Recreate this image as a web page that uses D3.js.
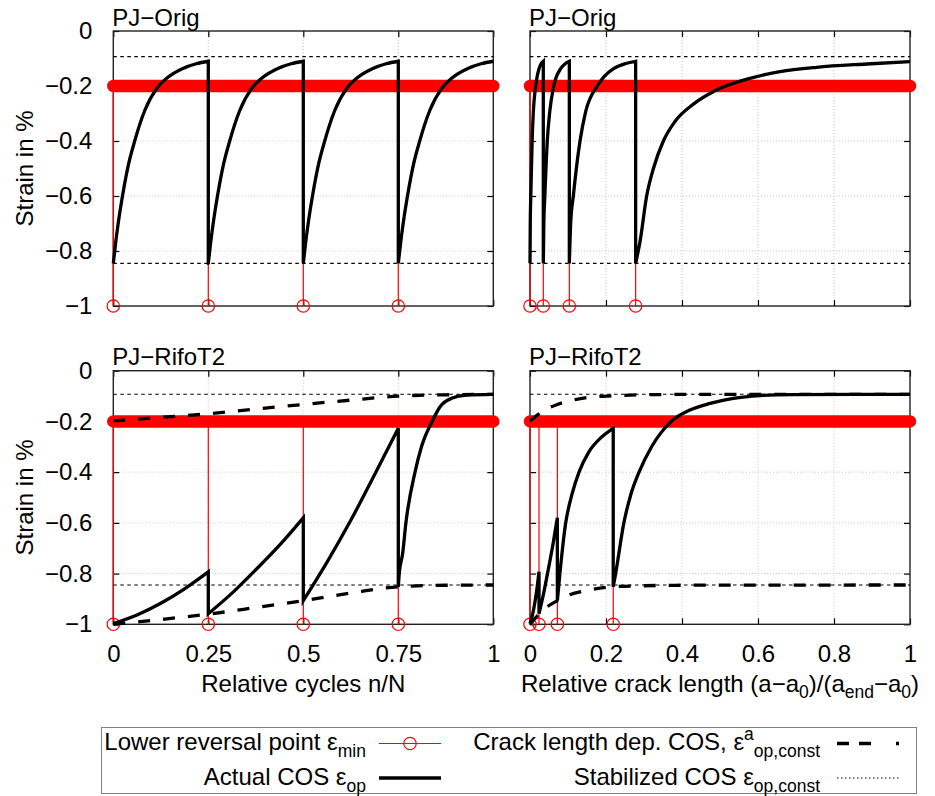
<!DOCTYPE html>
<html><head><meta charset="utf-8">
<script src="https://cdn.jsdelivr.net/npm/d3@7/dist/d3.min.js"></script>
<style>
body{margin:0;background:#fff}
svg{display:block}
text{font-family:"Liberation Sans",Arial,Helvetica,sans-serif;fill:#000}
</style>
</head><body>
<svg id="c" width="935" height="796"></svg>
<script>
// ---------------- data ----------------
const yTicks = [0, -0.2, -0.4, -0.6, -0.8, -1];
const yTickLabels = ["0", "−0.2", "−0.4", "−0.6", "−0.8", "−1"];
const cycleTicks = [0, 0.25, 0.5, 0.75, 1];
const cycleTickLabels = ["0", "0.25", "0.5", "0.75", "1"];
const crackTicks = [0, 0.2, 0.4, 0.6, 0.8, 1];
const crackTickLabels = ["0", "0.2", "0.4", "0.6", "0.8", "1"];
const panelTitles = ["PJ−Orig", "PJ−Orig", "PJ−RifoT2", "PJ−RifoT2"];

const epsMinBand = -0.2;      // lower reversal point (regular cycles)
const epsMinOverload = -1;    // lower reversal point (overload)
const stabilizedCOS = [-0.093, -0.845];

// reversal (overload) positions
const origCycleReversal = [0, 0.25, 0.5, 0.75];
const origCrackReversal = [0, 0.035, 0.1035, 0.278];
const rifoCycleReversal = [0, 0.25, 0.5, 0.75];
const rifoCrackReversal = [0, 0.0237, 0.072, 0.219];

// Actual COS, PJ-Orig vs relative cycles (one array per segment)
const origCycleCOS = [
  [[0,-0.845],[0.006,-0.772],[0.0123,-0.705],[0.0254,-0.59],[0.04,-0.485],[0.0561,-0.401],[0.0825,-0.29],[0.1158,-0.206],[0.1439,-0.168],[0.183,-0.136],[0.218,-0.119],[0.25,-0.11]],
  [[0.25,-0.845],[0.256,-0.772],[0.2623,-0.705],[0.2754,-0.59],[0.29,-0.485],[0.3061,-0.401],[0.3325,-0.29],[0.3658,-0.206],[0.3939,-0.168],[0.433,-0.136],[0.468,-0.119],[0.5,-0.11]],
  [[0.5,-0.845],[0.506,-0.772],[0.5123,-0.705],[0.5254,-0.59],[0.54,-0.485],[0.5561,-0.401],[0.5825,-0.29],[0.6158,-0.206],[0.6439,-0.168],[0.683,-0.136],[0.718,-0.119],[0.75,-0.11]],
  [[0.75,-0.845],[0.756,-0.772],[0.7623,-0.705],[0.7754,-0.59],[0.79,-0.485],[0.8061,-0.401],[0.8325,-0.29],[0.8658,-0.206],[0.8939,-0.168],[0.933,-0.136],[0.968,-0.119],[1,-0.11]]
];
// Actual COS, PJ-Orig vs relative crack length
const origCrackCOS = [
  [[0,-0.845],[0.0007,-0.7],[0.0021,-0.6],[0.0056,-0.4],[0.0088,-0.293],[0.0145,-0.205],[0.0185,-0.168],[0.0238,-0.137],[0.0298,-0.118],[0.035,-0.11]],
  [[0.035,-0.845],[0.0364,-0.7],[0.0391,-0.6],[0.0455,-0.4],[0.052,-0.293],[0.061,-0.21],[0.068,-0.172],[0.0807,-0.137],[0.0933,-0.118],[0.1035,-0.11]],
  [[0.1035,-0.845],[0.107,-0.7],[0.114,-0.6],[0.1316,-0.4],[0.1465,-0.293],[0.177,-0.2],[0.195,-0.166],[0.221,-0.136],[0.252,-0.118],[0.278,-0.11]],
  [[0.278,-0.845],[0.2895,-0.766],[0.307,-0.6],[0.325,-0.499],[0.351,-0.4],[0.381,-0.33],[0.43,-0.266],[0.482,-0.221],[0.51,-0.203],[0.579,-0.172],[0.658,-0.148],[0.754,-0.132],[0.886,-0.12],[1,-0.1115]]
];
// Actual COS, PJ-RifoT2 vs relative cycles
const rifoCycleCOS = [
  [[0,-0.997],[0.0625,-0.963],[0.125,-0.917],[0.1875,-0.86],[0.25,-0.793]],
  [[0.25,-0.958],[0.3125,-0.877],[0.375,-0.785],[0.4375,-0.688],[0.5,-0.58]],
  [[0.5,-0.907],[0.5625,-0.755],[0.625,-0.59],[0.6875,-0.41],[0.75,-0.227]],
  [[0.75,-0.852],[0.7525,-0.8],[0.7615,-0.72],[0.77,-0.6],[0.794,-0.4],[0.811,-0.3],[0.84,-0.197],[0.86,-0.142],[0.89,-0.109],[0.93,-0.096],[1,-0.093]]
];
// Actual COS, PJ-RifoT2 vs relative crack length
const rifoCrackCOS = [
  [[0,-0.997],[0.0065,-0.963],[0.0125,-0.917],[0.0182,-0.86],[0.0237,-0.793]],
  [[0.0237,-0.958],[0.036,-0.877],[0.048,-0.785],[0.06,-0.688],[0.072,-0.58]],
  [[0.072,-0.907],[0.0787,-0.8],[0.094,-0.6],[0.11,-0.49],[0.129,-0.4],[0.155,-0.32],[0.186,-0.265],[0.219,-0.227]],
  [[0.219,-0.852],[0.2254,-0.8],[0.247,-0.6],[0.265,-0.49],[0.287,-0.4],[0.32,-0.3],[0.372,-0.2],[0.421,-0.155],[0.474,-0.129],[0.535,-0.109],[0.605,-0.098],[0.69,-0.094],[1,-0.093]]
];
// Crack length dependent COS (PJ-RifoT2 only)
const rifoCycleDepUpper = [[0,-0.198],[0.125,-0.184],[0.25,-0.17],[0.375,-0.151],[0.5,-0.133],[0.625,-0.116],[0.75,-0.1],[0.875,-0.095],[1,-0.093]];
const rifoCycleDepLower = [[0,-1.0],[0.125,-0.981],[0.25,-0.96],[0.375,-0.934],[0.5,-0.907],[0.625,-0.877],[0.75,-0.852],[0.875,-0.846],[1,-0.845]];
const rifoCrackDepUpper = [[0,-0.198],[0.0237,-0.17],[0.05,-0.147],[0.072,-0.133],[0.116,-0.115],[0.15,-0.106],[0.219,-0.099],[0.3,-0.095],[0.4,-0.0935],[1,-0.093]];
const rifoCrackDepLower = [[0,-1.0],[0.0237,-0.96],[0.04,-0.937],[0.072,-0.907],[0.1,-0.886],[0.15,-0.866],[0.219,-0.852],[0.3,-0.848],[0.4,-0.846],[1,-0.845]];

// ---------------- drawing ----------------
const svg = d3.select("#c");
const FS = 24;
const SFS = 17.5;

const panels = [
  {title: panelTitles[0], l:113.3, r:493.3, t:31, b:306, ticks:cycleTicks, tickLabels:cycleTickLabels, cos:origCycleCOS, rev:origCycleReversal, dep:null, showX:false, showY:true},
  {title: panelTitles[1], l:530, r:910, t:31, b:306, ticks:crackTicks, tickLabels:crackTickLabels, cos:origCrackCOS, rev:origCrackReversal, dep:null, showX:false, showY:false},
  {title: panelTitles[2], l:113.3, r:493.3, t:370.7, b:624.3, ticks:cycleTicks, tickLabels:cycleTickLabels, cos:rifoCycleCOS, rev:rifoCycleReversal, dep:[rifoCycleDepUpper, rifoCycleDepLower], showX:true, showY:true},
  {title: panelTitles[3], l:530, r:910, t:370.7, b:624.3, ticks:crackTicks, tickLabels:crackTickLabels, cos:rifoCrackCOS, rev:rifoCrackReversal, dep:[rifoCrackDepUpper, rifoCrackDepLower], showX:true, showY:false}
];

panels.forEach(p => {
  const x = d3.scaleLinear().domain([0, 1]).range([p.l, p.r]);
  const y = d3.scaleLinear().domain([-1, 0]).range([p.b, p.t]);
  const g = svg.append("g");

  // grid
  const grid = g.append("g").attr("stroke", "#c8c8c8").attr("stroke-width", 1).attr("stroke-dasharray", "1,2");
  p.ticks.slice(1, -1).forEach(v => grid.append("line").attr("x1", x(v)).attr("x2", x(v)).attr("y1", p.t).attr("y2", p.b));
  yTicks.slice(1, -1).forEach(v => grid.append("line").attr("x1", p.l).attr("x2", p.r).attr("y1", y(v)).attr("y2", y(v)));

  // axes (ticks inward on all sides)
  const axB = d3.axisBottom(x).tickValues(p.ticks).tickSizeInner(-6).tickSizeOuter(0).tickPadding(21).tickFormat((d, i) => p.showX ? p.tickLabels[i] : "");
  const axT = d3.axisTop(x).tickValues(p.ticks).tickSizeInner(-6).tickSizeOuter(0).tickFormat("");
  const axL = d3.axisLeft(y).tickValues(yTicks).tickSizeInner(-6).tickSizeOuter(0).tickPadding(21).tickFormat((d, i) => p.showY ? yTickLabels[i] : "");
  const axR = d3.axisRight(y).tickValues(yTicks).tickSizeInner(-6).tickSizeOuter(0).tickFormat("");
  [[axB, `translate(0,${p.b})`], [axT, `translate(0,${p.t})`], [axL, `translate(${p.l},0)`], [axR, `translate(${p.r},0)`]].forEach(([ax, tr]) => {
    const a = g.append("g").attr("transform", tr).call(ax);
    a.select(".domain").remove();
    a.selectAll(".tick line").attr("stroke", "#000").attr("stroke-width", 1.2);
    a.selectAll("text").attr("font-size", FS).attr("font-family", "Liberation Sans, Arial, sans-serif").attr("fill", "#000");
  });

  // frame
  g.append("rect").attr("x", p.l).attr("y", p.t).attr("width", p.r - p.l).attr("height", p.b - p.t)
    .attr("fill", "none").attr("stroke", "#222").attr("stroke-width", 1.4);

  // title
  g.append("text").attr("x", p.l - 1).attr("y", p.t - 5.3).attr("font-size", FS).text(p.title);

  // lower reversal point: dense points at -0.2 (band), impulses to -1 at overloads
  g.append("line").attr("x1", x(0)).attr("x2", x(1)).attr("y1", y(epsMinBand)).attr("y2", y(epsMinBand))
    .attr("stroke", "#ff0000").attr("stroke-width", 12.5).attr("stroke-linecap", "round");
  p.rev.forEach(v => {
    g.append("line").attr("x1", x(v)).attr("x2", x(v)).attr("y1", y(epsMinBand)).attr("y2", y(epsMinOverload))
      .attr("stroke", "#ff0000").attr("stroke-width", 1.2);
    g.append("circle").attr("cx", x(v)).attr("cy", y(epsMinOverload)).attr("r", 6.2)
      .attr("fill", "none").attr("stroke", "#ff0000").attr("stroke-width", 1.2);
  });

  // crack length dependent COS
  const depLine = d3.line().x(d => x(d[0])).y(d => y(d[1])).curve(d3.curveMonotoneX);
  if (p.dep) {
    p.dep.forEach(arr => {
      g.append("path").attr("d", depLine(arr)).attr("fill", "none")
        .attr("stroke", "#000").attr("stroke-width", 3.3).attr("stroke-dasharray", "12,13");
    });
  }
  // actual COS (connected segments)
  const segLine = d3.line().x(d => x(d[0])).y(d => y(d[1])).curve(d3.curveMonotoneX);
  let d = "";
  p.cos.forEach((seg, i) => {
    const s = segLine(seg);
    d += i === 0 ? s : "L" + s.slice(1);
  });
  g.append("path").attr("d", d).attr("fill", "none").attr("stroke", "#000").attr("stroke-width", 3.3);

  // stabilized COS
  stabilizedCOS.forEach(v => {
    g.append("line").attr("x1", x(0)).attr("x2", x(1)).attr("y1", y(v)).attr("y2", y(v))
      .attr("stroke", "#000").attr("stroke-width", 1.1).attr("stroke-dasharray", "3.5,3.5");
  });
});

// axis titles
svg.append("text").attr("transform", "translate(32.5,168.5) rotate(-90)").attr("text-anchor", "middle").attr("font-size", FS).text("Strain in %");
svg.append("text").attr("transform", "translate(32.5,497.5) rotate(-90)").attr("text-anchor", "middle").attr("font-size", FS).text("Strain in %");
svg.append("text").attr("x", 303.3).attr("y", 692).attr("text-anchor", "middle").attr("font-size", FS).text("Relative cycles n/N");
const xl = svg.append("text").attr("x", 720).attr("y", 692).attr("text-anchor", "middle").attr("font-size", FS);
xl.append("tspan").text("Relative crack length (a−a");
xl.append("tspan").attr("dy", 6).attr("font-size", SFS).text("0");
xl.append("tspan").attr("dy", -6).text(")/(a");
xl.append("tspan").attr("dy", 6).attr("font-size", SFS).text("end");
xl.append("tspan").attr("dy", -6).text("−a");
xl.append("tspan").attr("dy", 6).attr("font-size", SFS).text("0");
xl.append("tspan").attr("dy", -6).text(")");

// legend
const leg = svg.append("g").attr("class", "leg");
leg.append("rect").attr("x", 101.5).attr("y", 727.5).attr("width", 815).attr("height", 66)
  .attr("fill", "#fff").attr("stroke", "#808080").attr("stroke-width", 1);
function legText(xEnd, yBase, parts) {
  const t = leg.append("text").attr("x", xEnd).attr("y", yBase).attr("text-anchor", "end").attr("font-size", FS);
  parts.forEach(([s, kind]) => {
    const ts = t.append("tspan").text(s);
    if (kind === "sub") ts.attr("font-size", SFS).attr("dy", 7);
    if (kind === "sup") ts.attr("font-size", SFS).attr("dy", -10);
    if (kind === "subAfterSup") ts.attr("font-size", SFS).attr("dy", 17);
  });
  return t;
}
legText(366, 750, [["Lower reversal point ε"], ["min", "sub"]]);
legText(820, 750, [["Crack length dep. COS, ε"], ["a", "sup"], ["op,const", "subAfterSup"]]);
legText(366, 785, [["Actual COS ε"], ["op", "sub"]]);
legText(820, 785, [["Stabilized COS ε"], ["op,const", "sub"]]);
leg.append("line").attr("x1", 379).attr("x2", 441).attr("y1", 743.5).attr("y2", 743.5).attr("stroke", "#ff0000").attr("stroke-width", 1.2);
leg.append("circle").attr("cx", 410).attr("cy", 743.5).attr("r", 6.2).attr("fill", "none").attr("stroke", "#ff0000").attr("stroke-width", 1.2);
leg.append("line").attr("x1", 379).attr("x2", 441).attr("y1", 778).attr("y2", 778).attr("stroke", "#000").attr("stroke-width", 3.3);
leg.append("line").attr("x1", 837).attr("x2", 899).attr("y1", 743.5).attr("y2", 743.5).attr("stroke", "#000").attr("stroke-width", 3.3).attr("stroke-dasharray", "12,10,12,25,3,10");
leg.append("line").attr("x1", 837).attr("x2", 899).attr("y1", 778).attr("y2", 778).attr("stroke", "#000").attr("stroke-width", 1).attr("stroke-dasharray", "1.5,2.5");
</script>
</body></html>
